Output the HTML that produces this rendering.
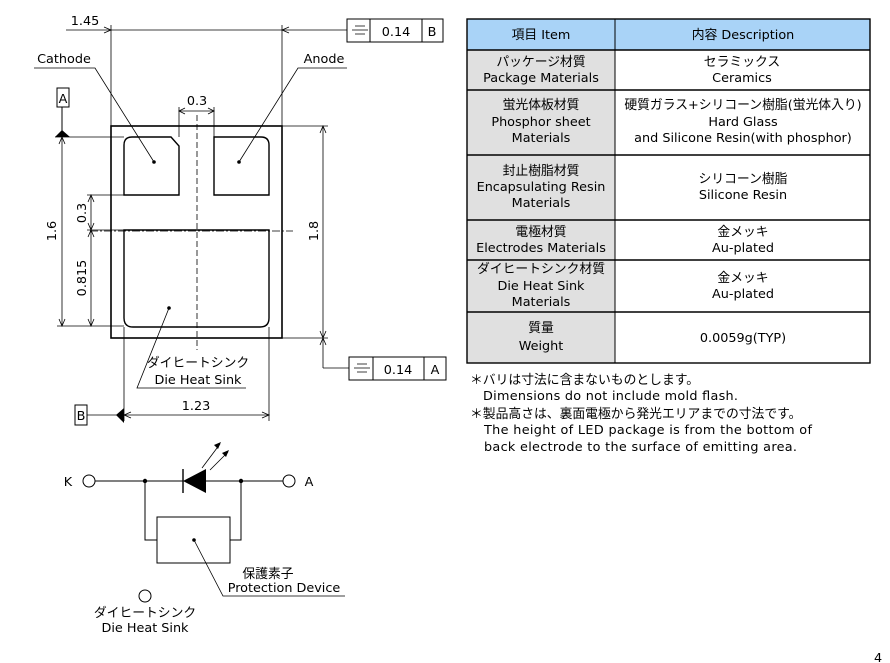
<!DOCTYPE html>
<html><head><meta charset="utf-8"><style>
html,body{margin:0;padding:0;background:#fff;}
svg{display:block;}
text{font-family:"DejaVu Sans","Noto Sans CJK JP",sans-serif;font-size:12.8px;fill:#000;}
.t{text-anchor:middle;}
</style></head><body>
<svg width="890" height="663" viewBox="0 0 890 663" xmlns="http://www.w3.org/2000/svg">
<g fill="none" stroke="#000" stroke-width="1">
<rect x="111" y="126" width="171" height="212" stroke-width="1.6"/>
<path d="M124,195 V145 Q124,137 132,137 H171 L179,146 V195 Z" stroke-width="1.4"/>
<path d="M214,195 V137 H261 Q269,137 269,145 V195 Z" stroke-width="1.4"/>
<path d="M124,230 H269 V318 Q269,327 260,327 H133 Q124,327 124,318 Z" stroke-width="1.4"/>
<line x1="197" y1="115" x2="197" y2="350" stroke-dasharray="6,3" stroke-width="0.8"/>
<line x1="90" y1="231" x2="293" y2="231" stroke-dasharray="8,2,2,2" stroke-width="0.8"/>
<line x1="179" y1="107" x2="179" y2="137" stroke-width="0.8"/>
<line x1="214" y1="107" x2="214" y2="137" stroke-width="0.8"/>
<line x1="179" y1="111" x2="214" y2="111" stroke-width="0.8"/>
<path d="M185,108 L179,111 L185,114 M208,108 L214,111 L208,114" stroke-width="0.8"/>
<line x1="111" y1="25" x2="111" y2="126" stroke-width="0.8"/>
<line x1="282" y1="25" x2="282" y2="126" stroke-width="0.8"/>
<line x1="66" y1="30" x2="347" y2="30" stroke-width="0.8"/>
<path d="M104,27 L111,30 L104,33 M289,27 L282,30 L289,33" stroke-width="0.8"/>
<rect x="347" y="19" width="96" height="23"/>
<line x1="370" y1="19" x2="370" y2="42"/><line x1="422" y1="19" x2="422" y2="42"/>
<path d="M352,30 H368 M355,26 H365 M355,34 H365" stroke-width="0.8"/>
<path d="M34,68 H95 L154,162" stroke-width="0.8"/>
<path d="M347,68 H298 L239,162" stroke-width="0.8"/>
<rect x="57" y="88" width="12" height="19"/>
<line x1="62" y1="107" x2="62" y2="131"/>
<line x1="55" y1="137" x2="124" y2="137" stroke-width="0.8"/>
<line x1="62" y1="137" x2="62" y2="326" stroke-width="0.8"/>
<path d="M59,144 L62,137 L65,144 M59,319 L62,326 L65,319" stroke-width="0.8"/>
<line x1="87" y1="195" x2="124" y2="195" stroke-width="0.8"/>
<line x1="87" y1="230" x2="124" y2="230" stroke-width="0.8"/>
<line x1="57" y1="326" x2="124" y2="326" stroke-width="0.8"/>
<line x1="91" y1="195" x2="91" y2="326" stroke-width="0.8"/>
<path d="M88,202 L91,195 L94,202 M88,223 L91,230 L94,223 M88,237 L91,230 L94,237 M88,319 L91,326 L94,319" stroke-width="0.8"/>
<line x1="282" y1="126" x2="328" y2="126" stroke-width="0.8"/>
<line x1="282" y1="338" x2="328" y2="338" stroke-width="0.8"/>
<line x1="323" y1="126" x2="323" y2="368" stroke-width="0.8"/>
<path d="M320,133 L323,126 L326,133 M320,331 L323,338 L326,331 M320,345 L323,338 L326,345" stroke-width="0.8"/>
<line x1="323" y1="368" x2="349" y2="368" stroke-width="0.8"/>
<rect x="349" y="357" width="97" height="23"/>
<line x1="373" y1="357" x2="373" y2="380"/><line x1="424" y1="357" x2="424" y2="380"/>
<path d="M354,368 H370 M357,364 H367 M357,372 H367" stroke-width="0.8"/>
<path d="M169,308 L137,388 H246" stroke-width="0.8"/>
<line x1="124" y1="327" x2="124" y2="421" stroke-width="0.8"/>
<line x1="269" y1="327" x2="269" y2="421" stroke-width="0.8"/>
<line x1="87" y1="415" x2="269" y2="415" stroke-width="0.8"/>
<path d="M131,412 L124,415 L131,418 M262,412 L269,415 L262,418" stroke-width="0.8"/>
<rect x="75" y="405" width="12" height="20"/>
</g>
<g fill="#000">
<polygon points="55,137 70,137 62,130"/>
<polygon points="124,408 124,423 116,415"/>
<circle cx="154" cy="162" r="1.8"/><circle cx="239" cy="162" r="1.8"/><circle cx="169" cy="308" r="1.8"/>
</g>
<text x="85" y="25" class="t">1.45</text>
<text x="197" y="105" class="t">0.3</text>
<text x="64" y="63" class="t">Cathode</text>
<text x="324" y="63" class="t">Anode</text>
<text x="63" y="103" class="t">A</text>
<text x="81" y="420" class="t">B</text>
<text x="396" y="36" class="t">0.14</text>
<text x="432" y="36" class="t">B</text>
<text x="398" y="374" class="t">0.14</text>
<text x="435" y="374" class="t">A</text>
<text transform="translate(56,231) rotate(-90)" class="t">1.6</text>
<text transform="translate(86,213) rotate(-90)" class="t">0.3</text>
<text transform="translate(86,278) rotate(-90)" class="t">0.815</text>
<text transform="translate(318,231) rotate(-90)" class="t">1.8</text>
<text x="198" y="367" class="t">ダイヒートシンク</text>
<text x="198" y="384" class="t">Die Heat Sink</text>
<text x="196" y="410" class="t">1.23</text>

<g fill="none" stroke="#000" stroke-width="1">
<circle cx="89" cy="481" r="6"/><circle cx="289" cy="481" r="6"/><circle cx="145" cy="596" r="6"/>
<line x1="95" y1="481" x2="283" y2="481"/>
<line x1="183" y1="469" x2="183" y2="493" stroke-width="1.4"/>
<rect x="157" y="517" width="73" height="46"/>
<path d="M145,481 V540 H157 M241,481 V540 H230"/>
<path d="M194,540 L223,596 H345" stroke-width="0.8"/>
<path d="M202,468 L220,444 M210,470 L228,452" stroke-width="0.8"/>
</g>
<g fill="#000">
<polygon points="183,481 206,469 206,493"/>
<circle cx="145" cy="481" r="2.2"/><circle cx="241" cy="481" r="2.2"/><circle cx="194" cy="540" r="1.8"/>
<polygon points="221,442 214,445 218,449"/>
<polygon points="229,450 222,453 226,457"/>
</g>
<text x="68" y="486" class="t">K</text>
<text x="309" y="486" class="t">A</text>
<text x="268" y="578" class="t">保護素子</text>
<text x="284" y="592" class="t">Protection Device</text>
<text x="145" y="617" class="t">ダイヒートシンク</text>
<text x="145" y="632" class="t">Die Heat Sink</text>

<rect x="467" y="19" width="403" height="31" fill="#a9d3f7"/>
<rect x="467" y="50" width="148" height="313" fill="#e0e0e0"/>
<g fill="none" stroke="#000" stroke-width="1">
<rect x="467" y="19" width="403" height="344" stroke-width="1.4"/>
<line x1="615" y1="19" x2="615" y2="363"/>
<line x1="467" y1="50" x2="870" y2="50" stroke-width="1.4"/>
<line x1="467" y1="90" x2="870" y2="90" stroke-width="1.4"/>
<line x1="467" y1="155" x2="870" y2="155" stroke-width="1.4"/>
<line x1="467" y1="220" x2="870" y2="220" stroke-width="1.4"/>
<line x1="467" y1="260" x2="870" y2="260" stroke-width="1.4"/>
<line x1="467" y1="312" x2="870" y2="312" stroke-width="1.4"/>
</g>
<text x="541" y="39" class="t">項目 Item</text>
<text x="743" y="39" class="t">内容 Description</text>
<text x="541" y="66" class="t">パッケージ材質</text>
<text x="541" y="82" class="t">Package Materials</text>
<text x="742" y="66" class="t">セラミックス</text>
<text x="742" y="82" class="t">Ceramics</text>
<text x="541" y="109" class="t">蛍光体板材質</text>
<text x="541" y="126" class="t">Phosphor sheet</text>
<text x="541" y="142" class="t">Materials</text>
<text x="743" y="109" class="t">硬質ガラス+シリコーン樹脂(蛍光体入り)</text>
<text x="743" y="126" class="t">Hard Glass</text>
<text x="743" y="142" class="t">and Silicone Resin(with phosphor)</text>
<text x="541" y="175" class="t">封止樹脂材質</text>
<text x="541" y="191" class="t">Encapsulating Resin</text>
<text x="541" y="207" class="t">Materials</text>
<text x="743" y="183" class="t">シリコーン樹脂</text>
<text x="743" y="199" class="t">Silicone Resin</text>
<text x="541" y="236" class="t">電極材質</text>
<text x="541" y="252" class="t">Electrodes Materials</text>
<text x="743" y="236" class="t">金メッキ</text>
<text x="743" y="252" class="t">Au-plated</text>
<text x="541" y="273" class="t">ダイヒートシンク材質</text>
<text x="541" y="290" class="t">Die Heat Sink</text>
<text x="541" y="306" class="t">Materials</text>
<text x="743" y="282" class="t">金メッキ</text>
<text x="743" y="298" class="t">Au-plated</text>
<text x="541" y="332" class="t">質量</text>
<text x="541" y="350" class="t">Weight</text>
<text x="743" y="342" class="t">0.0059g(TYP)</text>

<text x="470" y="384">＊バリは寸法に含まないものとします。</text>
<text x="483" y="400" textLength="255" lengthAdjust="spacing">Dimensions do not include mold flash.</text>
<text x="470" y="418">＊製品高さは、裏面電極から発光エリアまでの寸法です。</text>
<text x="484" y="434" textLength="328" lengthAdjust="spacing">The height of LED package is from the bottom of</text>
<text x="484" y="451" textLength="313" lengthAdjust="spacing">back electrode to the surface of emitting area.</text>
<text x="874" y="662">4</text>
</svg>
</body></html>
